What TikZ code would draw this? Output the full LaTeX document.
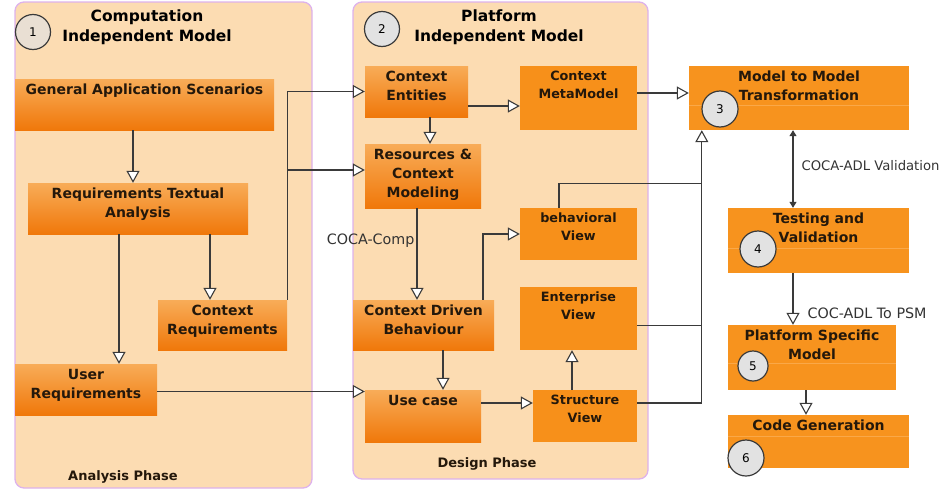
\documentclass[tikz,border=0pt]{standalone}
\usepackage{fontspec}
\setmainfont{DejaVu Sans}
\usetikzlibrary{arrows.meta,fit}

\definecolor{panelfill}{HTML}{FCDCB2}
\definecolor{panelline}{HTML}{DDB2EC}
\definecolor{orlight}{HTML}{F8AC58}
\definecolor{ordark}{HTML}{F0780A}
\definecolor{orflat}{HTML}{F7901A}
\definecolor{orright}{HTML}{F7931E}
\definecolor{ordiv}{HTML}{FAA848}
\definecolor{wirec}{HTML}{3A3A3A}
\definecolor{numfill}{HTML}{E2E2E2}
\definecolor{numbeige}{HTML}{E9DFD3}
\definecolor{boxtext}{HTML}{24180B}
\definecolor{lbltext}{HTML}{333333}

\tikzset{
    panel/.style={draw=panelline, line width=1.3pt, fill=panelfill, rounded corners=9pt, inner sep=0pt},
    gbox/.style={inner sep=0pt, top color=orlight, bottom color=ordark},
    fbox/.style={inner sep=0pt, fill=orflat},
    rbox/.style={inner sep=0pt, fill=orright},
    btxt/.style={font=\bfseries\fontsize{14}{19}\selectfont, align=center, text=boxtext, inner sep=2pt},
    stxt/.style={btxt, font=\bfseries\fontsize{12.8}{18}\selectfont},
    ttl/.style={font=\bfseries\fontsize{15.5}{20}\selectfont, align=center, text=black},
    phase/.style={font=\bfseries\fontsize{13}{15}\selectfont, text=boxtext},
    lbl/.style={font=\fontsize{14.3}{16}\selectfont, text=lbltext, inner sep=2pt},
    numc/.style={circle, draw=wirec, line width=1.2pt, inner sep=0pt, font=\fontsize{12}{14}\selectfont},
    wire/.style={draw=wirec, line width=1.1pt},
    arr/.style={wire, -{Triangle[width=13pt, length=12pt, fill=white]}},
    dbl/.style={wire, {Triangle[width=7pt, length=6pt]}-{Triangle[width=7pt, length=6pt]}},
    divider/.style={draw=ordiv, line width=0.8pt}
}

\begin{document}
\begin{tikzpicture}[x=1pt,y=-1pt]
    \useasboundingbox (0,0) rectangle (943,490);
    \clip (0,0) rectangle (943,490);

    \node[panel, fit={(15,2) (312,488)}] (cim) {};
    \node[panel, fit={(353,2) (648,479)}] (pim) {};

    \node[ttl] (cim-t) at (147,27) {Computation\\Independent Model};
    \node[ttl] (pim-t) at (499,27) {Platform\\Independent Model};

    % analysis phase
    \node[gbox, fit={(15,79) (274,130)}] (gas) {};
    \node[gbox, fit={(28,183) (248,234)}] (rta) {};
    \node[gbox, fit={(158,300) (287,350)}] (creq) {};
    \node[gbox, fit={(15,364) (157,415)}] (ureq) {};

    \node[btxt, below=3pt] (gas-t) at (gas.north) {General Application Scenarios};
    \node[btxt, below=3pt] (rta-t) at (rta.north) {Requirements Textual\\Analysis};
    \node[btxt, below=3pt] (creq-t) at (creq.north) {Context\\Requirements};
    \node[btxt, below=3pt] (ureq-t) at (ureq.north) {User\\Requirements};
    \node[phase] (ana-t) at (123,477) {Analysis Phase};

    % design phase
    \node[gbox, fit={(365,66) (468,117)}] (cent) {};
    \node[gbox, fit={(365,144) (481,208)}] (rcm) {};
    \node[fbox, fit={(520,66) (637,130)}] (cmm) {};
    \node[fbox, fit={(520,208) (637,260)}] (bview) {};
    \node[gbox, fit={(353,300) (494,350)}] (cdb) {};
    \node[fbox, fit={(520,287) (637,350)}] (eview) {};
    \node[gbox, fit={(365,390) (481,442)}] (ucase) {};
    \node[fbox, fit={(533,390) (637,442)}] (sview) {};

    \node[btxt, below=3pt] (cent-t) at (cent.north) {Context\\Entities};
    \node[btxt, below=3pt] (rcm-t) at (rcm.north) {Resources \&\\Context\\Modeling};
    \node[stxt, below=3pt] (cmm-t) at (cmm.north) {Context\\MetaModel};
    \node[stxt, below=3pt] (bview-t) at (bview.north) {behavioral\\View};
    \node[btxt, below=3pt] (cdb-t) at (cdb.north) {Context Driven\\Behaviour};
    \node[stxt, below=3pt] (eview-t) at (eview.north) {Enterprise\\View};
    \node[btxt, below=3pt] (ucase-t) at (ucase.north) {Use case};
    \node[stxt, below=3pt] (sview-t) at (sview.north) {Structure\\View};
    \node[phase] (des-t) at (487,464) {Design Phase};

    % model transformation chain
    \node[rbox, fit={(689,66) (909,130)}] (m2m) {};
    \node[rbox, fit={(728,208) (909,273)}] (tv) {};
    \node[rbox, fit={(728,325) (896,390)}] (psm) {};
    \node[rbox, fit={(728,415) (909,468)}] (cg) {};

    \foreach \b/\d in {m2m/40, tv/41, psm/39, cg/22}{
        \draw[divider] ([yshift=-\d pt]\b.north west) -- ([yshift=-\d pt]\b.north east);
    }

    \node[btxt, below=3pt] (m2m-t) at (m2m.north) {Model to Model\\Transformation};
    \node[btxt, below=3pt] (tv-t) at (tv.north) {Testing and\\Validation};
    \node[btxt, below=3pt] (psm-t) at (psm.north) {Platform Specific\\Model};
    \node[btxt, below=3pt] (cg-t) at (cg.north) {Code Generation};

    \foreach \n/\x/\y/\s/\c in {1/33/32/35/numbeige, 2/382/29/35/numfill, 3/720/109/36/numfill,
                               4/758/249/36/numfill, 5/753/366/30/numfill, 6/746/458/36/numfill}{
        \node[numc, minimum size=\s pt, fill=\c] (num\n) at (\x,\y) {\n};
    }

    % connectors
    \draw[arr] ([xshift=-5pt]rta.north |- gas.south) -- ([xshift=-5pt]rta.north);
    \draw[arr] ([xshift=-19pt]rta.south) -- ([xshift=-19pt]rta.south |- ureq.north);
    \draw[arr] ([xshift=72pt]rta.south) -- ([xshift=72pt]rta.south |- creq.north);
    \draw[arr] (creq.north east) |- (cent.west);
    \draw[arr] ([yshift=6pt]rcm.west -| creq.north east) -- ([yshift=6pt]rcm.west);
    \draw[arr] ([yshift=-2pt]ureq.east) -- ([yshift=-2pt]ureq.east -| ucase.west);

    \draw[arr] ([xshift=13.5pt]cent.south) -- ([xshift=13.5pt]cent.south |- rcm.north);
    \draw[arr] ([yshift=-14.5pt]cent.east) -- ([yshift=-14.5pt]cent.east -| cmm.west);
    \draw[arr] ([yshift=5pt]cmm.east) -- ([yshift=5pt]cmm.east -| m2m.west);
    \draw[arr] ([xshift=-6pt]rcm.south) -- node[lbl, left, pos=0.35] (comp-l) {COCA-Comp}
        ([xshift=-6pt]rcm.south |- cdb.north);
    \draw[arr] ([xshift=59.5pt]cdb.north) |- (bview.west);
    \draw[arr] ([xshift=19.5pt]cdb.south) -- ([xshift=19.5pt]cdb.south |- ucase.north);
    \draw[arr] ([yshift=13pt]ucase.east) -- ([yshift=13pt]ucase.east -| sview.west);
    \draw[arr] ([xshift=-13pt]sview.north) -- ([xshift=-13pt]sview.north |- eview.south);

    \coordinate (bus) at ([xshift=13pt]m2m.south west);
    \draw[arr] ([yshift=13pt]sview.east) -| (bus);
    \draw[wire] ([yshift=-7pt]eview.east) -- ([yshift=-7pt]eview.east -| bus);
    \draw[wire] ([xshift=-19.5pt]bview.north) |- ([yshift=-53pt]bus);

    \draw[dbl] ([xshift=-6pt]m2m.south) -- node[lbl, font=\fontsize{13.2}{16}\selectfont, right=6pt, pos=0.45] (val-l) {COCA-ADL Validation}
        ([xshift=-6pt]m2m.south |- tv.north);
    \draw[arr] ([xshift=-25.5pt]tv.south) -- node[lbl, right=12pt, pos=0.78] (psm-l) {COC-ADL To PSM}
        ([xshift=-25.5pt]tv.south |- psm.north);
    \draw[arr] ([xshift=-6pt]psm.south) -- ([xshift=-6pt]psm.south |- cg.north);
\end{tikzpicture}
\end{document}
